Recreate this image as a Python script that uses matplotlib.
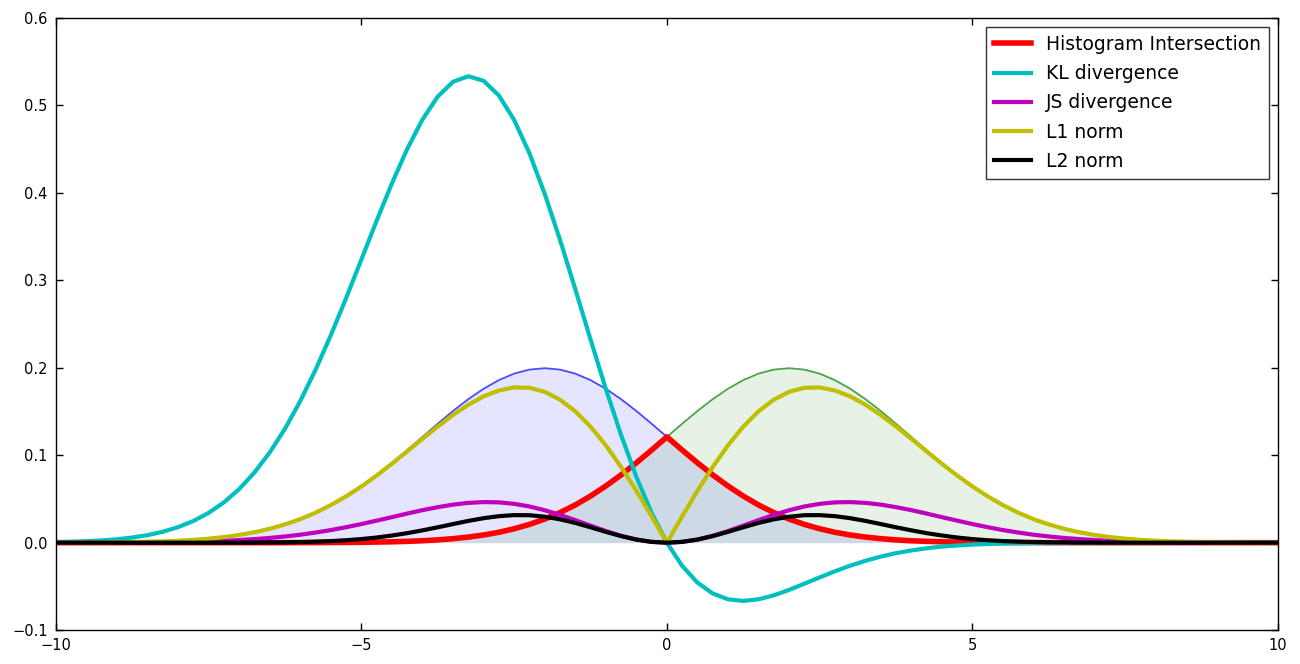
import matplotlib
matplotlib.use('Agg')
import matplotlib.pyplot as plt

# x positions (every 0.25 from -10 to 10)
x = [-10.0, -9.75, -9.5, -9.25, -9.0, -8.75, -8.5, -8.25, -8.0, -7.75,
     -7.5, -7.25, -7.0, -6.75, -6.5, -6.25, -6.0, -5.75, -5.5, -5.25,
     -5.0, -4.75, -4.5, -4.25, -4.0, -3.75, -3.5, -3.25, -3.0, -2.75,
     -2.5, -2.25, -2.0, -1.75, -1.5, -1.25, -1.0, -0.75, -0.5, -0.25,
     0.0, 0.25, 0.5, 0.75, 1.0, 1.25, 1.5, 1.75, 2.0, 2.25,
     2.5, 2.75, 3.0, 3.25, 3.5, 3.75, 4.0, 4.25, 4.5, 4.75,
     5.0, 5.25, 5.5, 5.75, 6.0, 6.25, 6.5, 6.75, 7.0, 7.25,
     7.5, 7.75, 8.0, 8.25, 8.5, 8.75, 9.0, 9.25, 9.5, 9.75, 10.0]

# blue distribution (left bump)
p_blue = [0.0001, 0.0001, 0.0002, 0.0003, 0.0004, 0.0007, 0.0010, 0.0015, 0.0022, 0.0032,
          0.0046, 0.0064, 0.0088, 0.0119, 0.0159, 0.0209, 0.0270, 0.0344, 0.0431, 0.0533,
          0.0648, 0.0775, 0.0913, 0.1059, 0.1210, 0.1360, 0.1506, 0.1641, 0.1760, 0.1859,
          0.1933, 0.1979, 0.1995, 0.1979, 0.1933, 0.1859, 0.1760, 0.1641, 0.1506, 0.1360,
          0.1210, 0.1059, 0.0913, 0.0775, 0.0648, 0.0533, 0.0431, 0.0344, 0.0270, 0.0209,
          0.0159, 0.0119, 0.0088, 0.0064, 0.0046, 0.0032, 0.0022, 0.0015, 0.0010, 0.0007,
          0.0004, 0.0003, 0.0002, 0.0001, 0.0001, 0, 0, 0, 0, 0,
          0, 0, 0, 0, 0, 0, 0, 0, 0, 0, 0]

# green distribution (right bump)
q_green = [0, 0, 0, 0, 0, 0, 0, 0, 0, 0,
           0, 0, 0, 0, 0, 0, 0.0001, 0.0001, 0.0002, 0.0003,
           0.0004, 0.0007, 0.0010, 0.0015, 0.0022, 0.0032, 0.0046, 0.0064, 0.0088, 0.0119,
           0.0159, 0.0209, 0.0270, 0.0344, 0.0431, 0.0533, 0.0648, 0.0775, 0.0913, 0.1059,
           0.1210, 0.1360, 0.1506, 0.1641, 0.1760, 0.1859, 0.1933, 0.1979, 0.1995, 0.1979,
           0.1933, 0.1859, 0.1760, 0.1641, 0.1506, 0.1360, 0.1210, 0.1059, 0.0913, 0.0775,
           0.0648, 0.0533, 0.0431, 0.0344, 0.0270, 0.0209, 0.0159, 0.0119, 0.0088, 0.0064,
           0.0046, 0.0032, 0.0022, 0.0015, 0.0010, 0.0007, 0.0004, 0.0003, 0.0002, 0.0001, 0.0001]

hist_inter = [0, 0, 0, 0, 0, 0, 0, 0, 0, 0,
              0, 0, 0, 0, 0, 0, 0.0001, 0.0001, 0.0002, 0.0003,
              0.0004, 0.0007, 0.0010, 0.0015, 0.0022, 0.0032, 0.0046, 0.0064, 0.0088, 0.0119,
              0.0159, 0.0209, 0.0270, 0.0344, 0.0431, 0.0533, 0.0648, 0.0775, 0.0913, 0.1059,
              0.1210, 0.1059, 0.0913, 0.0775, 0.0648, 0.0533, 0.0431, 0.0344, 0.0270, 0.0209,
              0.0159, 0.0119, 0.0088, 0.0064, 0.0046, 0.0032, 0.0022, 0.0015, 0.0010, 0.0007,
              0.0004, 0.0003, 0.0002, 0.0001, 0.0001, 0, 0, 0, 0, 0,
              0, 0, 0, 0, 0, 0, 0, 0, 0, 0, 0]

kl_div = [0.0007, 0.0011, 0.0017, 0.0026, 0.0039, 0.0059, 0.0086, 0.0125, 0.0178, 0.0248,
          0.0341, 0.0461, 0.0613, 0.0803, 0.1032, 0.1304, 0.1620, 0.1977, 0.2373, 0.2797,
          0.3238, 0.3682, 0.4109, 0.4502, 0.4839, 0.5101, 0.5270, 0.5333, 0.5281, 0.5113,
          0.4833, 0.4453, 0.3989, 0.3464, 0.2900, 0.2324, 0.1760, 0.1231, 0.0753, 0.0340,
          0.0, -0.0265, -0.0457, -0.0581, -0.0648, -0.0666, -0.0647, -0.0602, -0.0540, -0.0469,
          -0.0397, -0.0327, -0.0263, -0.0207, -0.0159, -0.0120, -0.0089, -0.0064, -0.0045, -0.0032,
          -0.0022, -0.0015, -0.0010, -0.0006, -0.0004, -0.0002, -0.0002, -0.0001, -0.0001, 0,
          0, 0, 0, 0, 0, 0, 0, 0, 0, 0, 0]

js_div = [0, 0, 0.0001, 0.0001, 0.0002, 0.0002, 0.0003, 0.0005, 0.0008, 0.0011,
          0.0016, 0.0022, 0.0030, 0.0041, 0.0054, 0.0071, 0.0091, 0.0116, 0.0144, 0.0177,
          0.0213, 0.0252, 0.0292, 0.0333, 0.0372, 0.0406, 0.0435, 0.0455, 0.0464, 0.0461,
          0.0444, 0.0414, 0.0371, 0.0318, 0.0258, 0.0195, 0.0133, 0.0079, 0.0037, 0.0009,
          0.0, 0.0009, 0.0037, 0.0079, 0.0133, 0.0195, 0.0258, 0.0318, 0.0371, 0.0414,
          0.0444, 0.0461, 0.0464, 0.0455, 0.0435, 0.0406, 0.0372, 0.0333, 0.0292, 0.0252,
          0.0213, 0.0177, 0.0144, 0.0116, 0.0091, 0.0071, 0.0054, 0.0041, 0.0030, 0.0022,
          0.0016, 0.0011, 0.0008, 0.0005, 0.0003, 0.0002, 0.0002, 0.0001, 0.0001, 0, 0]

l1_norm = [0.0001, 0.0001, 0.0002, 0.0003, 0.0004, 0.0007, 0.0010, 0.0015, 0.0022, 0.0032,
           0.0046, 0.0064, 0.0088, 0.0119, 0.0159, 0.0209, 0.0269, 0.0343, 0.0430, 0.0530,
           0.0643, 0.0768, 0.0903, 0.1044, 0.1188, 0.1328, 0.1460, 0.1577, 0.1673, 0.1740,
           0.1775, 0.1771, 0.1725, 0.1635, 0.1502, 0.1327, 0.1113, 0.0866, 0.0593, 0.0301,
           0.0, 0.0301, 0.0593, 0.0866, 0.1113, 0.1327, 0.1502, 0.1635, 0.1725, 0.1771,
           0.1775, 0.1740, 0.1673, 0.1577, 0.1460, 0.1328, 0.1188, 0.1044, 0.0903, 0.0768,
           0.0643, 0.0530, 0.0430, 0.0343, 0.0269, 0.0209, 0.0159, 0.0119, 0.0088, 0.0064,
           0.0046, 0.0032, 0.0022, 0.0015, 0.0010, 0.0007, 0.0004, 0.0003, 0.0002, 0.0001, 0.0001]

l2_norm = [0, 0, 0, 0, 0, 0, 0, 0, 0, 0,
           0, 0, 0.0001, 0.0001, 0.0003, 0.0004, 0.0007, 0.0012, 0.0018, 0.0028,
           0.0041, 0.0059, 0.0082, 0.0109, 0.0141, 0.0176, 0.0213, 0.0249, 0.0280, 0.0303,
           0.0315, 0.0314, 0.0297, 0.0267, 0.0226, 0.0176, 0.0124, 0.0075, 0.0035, 0.0009,
           0.0, 0.0009, 0.0035, 0.0075, 0.0124, 0.0176, 0.0226, 0.0267, 0.0297, 0.0314,
           0.0315, 0.0303, 0.0280, 0.0249, 0.0213, 0.0176, 0.0141, 0.0109, 0.0082, 0.0059,
           0.0041, 0.0028, 0.0018, 0.0012, 0.0007, 0.0004, 0.0003, 0.0001, 0.0001, 0,
           0, 0, 0, 0, 0, 0, 0, 0, 0, 0, 0]

labels = ['Histogram Intersection', 'KL divergence', 'JS divergence', 'L1 norm', 'L2 norm']
series = [hist_inter, kl_div, js_div, l1_norm, l2_norm]
colors = ['r', 'c', 'm', 'y', 'k']
widths = [4, 3, 3, 3, 3]

fig = plt.figure(figsize=(13, 6.64), dpi=100)
ax = fig.add_axes([0.043, 0.051, 0.940, 0.922])

# the two distributions, shaded
ax.fill_between(x, p_blue, color='b', alpha=0.1, linewidth=0)
ax.fill_between(x, q_green, color='g', alpha=0.1, linewidth=0)
ax.plot(x, p_blue, color='b', alpha=0.7, lw=1.3, solid_joinstyle='round')
ax.plot(x, q_green, color='g', alpha=0.7, lw=1.3, solid_joinstyle='round')

for y, lab, c, w in zip(series, labels, colors, widths):
	ax.plot(x, y, color=c, lw=w, label=lab, solid_joinstyle='round')

ax.set_xlim(-10, 10)
ax.set_ylim(-0.1, 0.6)
ax.set_xticks([-10, -5, 0, 5, 10])
ax.set_yticks([-0.1, 0.0, 0.1, 0.2, 0.3, 0.4, 0.5, 0.6])
ax.set_yticklabels(['\u22120.1', '0.0', '0.1', '0.2', '0.3', '0.4', '0.5', '0.6'])
ax.tick_params(direction='in', top=True, right=True, length=5, width=1,
               labelsize=10.5, pad=6)
for s in ax.spines.values():
	s.set_color('black')
	s.set_linewidth(1)

leg = ax.legend(loc='upper right', fontsize=13.5, fancybox=False,
                borderaxespad=0.5, handlelength=2, labelspacing=0.55)
leg.get_frame().set_edgecolor('black')
leg.get_frame().set_linewidth(1)

fig.savefig('out.png', dpi=100, facecolor='white')
